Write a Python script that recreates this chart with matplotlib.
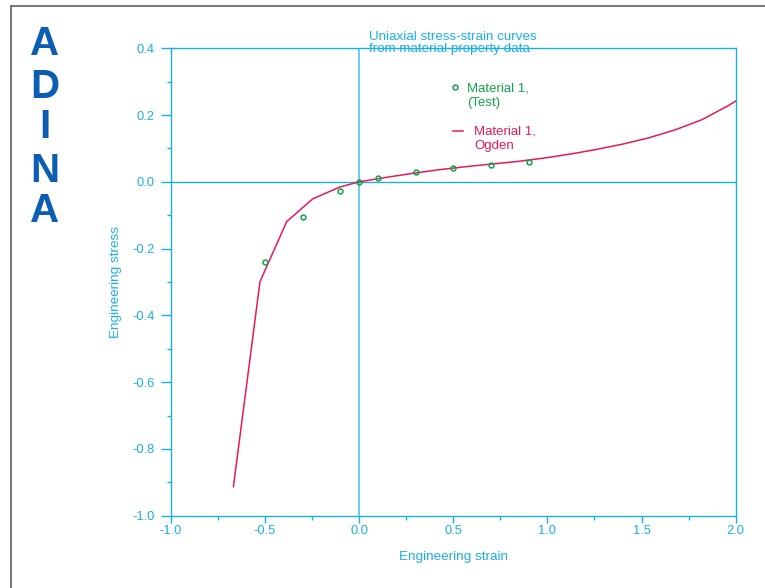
import numpy as np
import matplotlib.pyplot as plt
from matplotlib.lines import Line2D
from matplotlib.ticker import MultipleLocator

plt.rcParams['font.family'] = ['Liberation Sans', 'DejaVu Sans']

# test data (Material 1, Test)
test_strain = [-0.5, -0.3, -0.1, 0.0, 0.1, 0.3, 0.5, 0.7, 0.9]
test_stress = [-0.239, -0.104, -0.028, 0.0, 0.011, 0.028, 0.041, 0.051, 0.060]

# fitted curve (Material 1, Ogden)
ogden_strain = [-0.667, -0.526, -0.384, -0.246, -0.104, 0.0, 0.14, 0.28, 0.42, 0.56,
                0.70, 0.84, 0.98, 1.12, 1.26, 1.40, 1.54, 1.68, 1.82, 1.96, 2.0]
ogden_stress = [-0.913, -0.299, -0.119, -0.051, -0.016, 0.0, 0.013, 0.025, 0.036, 0.045,
                0.053, 0.061, 0.071, 0.083, 0.097, 0.113, 0.132, 0.156, 0.186, 0.228, 0.242]

CYAN = '#1AAEE8'
RED = '#E8195A'
GREEN = '#13A24A'
LOGO = '#0B5EB3'

W, H = 765, 588


def px(x, y):
    """image pixel -> figure fraction"""
    return x / W, 1 - y / H


fig = plt.figure(figsize=(W / 100, H / 100), dpi=100)
ax = fig.add_axes([170.7 / W, 1 - 515.7 / H, 565 / W, 467.4 / H])

ax.plot(ogden_strain, ogden_stress, color=RED, lw=1.1, zorder=3)
ax.plot(test_strain, test_stress, 'o', ms=3.5, mfc='none', mec=GREEN, mew=1.1, zorder=4)

# crosshair
ax.axhline(0, color=CYAN, lw=1, zorder=1)
ax.axvline(0, color='#4CC3F0', lw=1.2, zorder=1)

ax.set_xlim(-1.0, 2.0)
ax.set_ylim(-1.0, 0.4)
ax.xaxis.set_major_locator(MultipleLocator(0.5))
ax.xaxis.set_minor_locator(MultipleLocator(0.25))
ax.yaxis.set_major_locator(MultipleLocator(0.2))
ax.yaxis.set_minor_locator(MultipleLocator(0.1))
ax.xaxis.set_major_formatter(lambda v, p: f"{v:.1f}")
ax.yaxis.set_major_formatter(lambda v, p: f"{v:.1f}")

for s in ax.spines.values():
    s.set_color(CYAN)
    s.set_linewidth(1)
ax.tick_params(which='both', color=CYAN, labelcolor=CYAN, labelsize=9.3, width=1, direction='out')
ax.tick_params(axis='y', which='major', length=7, pad=4.5)
ax.tick_params(axis='x', which='major', length=5, pad=2)
ax.tick_params(which='minor', length=3)

ax.set_xlabel('Engineering strain', color=CYAN, fontsize=9.7)
ax.set_ylabel('Engineering stress', color=CYAN, fontsize=9.7)
ax.xaxis.set_label_coords(0.5, -0.076)
ax.yaxis.set_label_coords(-0.086, 0.5)

# title
tx, ty = px(369, 31)
fig.text(tx, ty, 'Uniaxial stress-strain curves\nfrom material property data',
         color=CYAN, fontsize=9.6, ha='left', va='top', linespacing=1.0)

# legend
fig.add_artist(Line2D(*zip(px(455, 87)), marker='o', ms=3.5, mfc='none', mec=GREEN,
                      mew=1.1, ls='none'))
for i, s in enumerate(['Material 1,', '(Test)']):
    fig.text(*px(466.7, 91.7 + 14 * i), s, color=GREEN, fontsize=9.5, va='baseline')
(x0, y0), (x1, y1) = px(452.7, 130.7), px(463.3, 130.7)
fig.add_artist(Line2D([x0, x1], [y0, y1], color=RED, lw=1.1))
for i, s in enumerate(['Material 1,', 'Ogden']):
    fig.text(*px(474.3, 135 + 14 * i), s, color=RED, fontsize=9.5, va='baseline')

# logo
for ch, yb in zip('ADINA', [55, 98, 138, 182, 222]):
    fig.text(*px(45, yb), ch, color=LOGO, fontsize=29, fontweight='bold',
             ha='center', va='baseline')

# page frame
(fx, fy) = px(11, 6)
fig.add_artist(Line2D([fx, fx], [0, fy], color='#7a7a7a', lw=1.5))
fig.add_artist(Line2D([fx, 1], [fy, fy], color='#7a7a7a', lw=1.5))

fig.savefig('out.png', dpi=100)
